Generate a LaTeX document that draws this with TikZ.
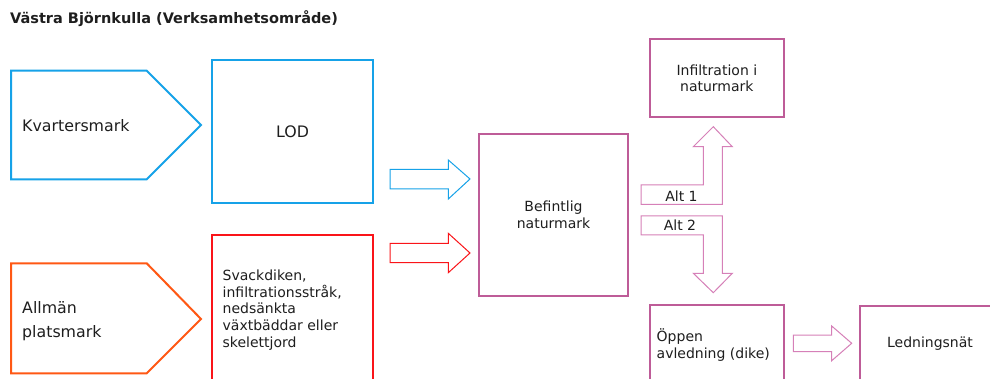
\documentclass[tikz,border=0pt]{standalone}
\usepackage{fontspec}
\setmainfont{DejaVu Sans}
\definecolor{cblue}{RGB}{22,162,232}
\definecolor{corange}{RGB}{255,88,20}
\definecolor{cred}{RGB}{250,20,25}
\definecolor{cpink}{RGB}{190,92,152}
\definecolor{carrow}{RGB}{214,128,184}
\definecolor{ctext}{RGB}{30,30,30}
\tikzset{
  box/.style={draw, line width=2pt, inner sep=0pt, text=ctext},
  blk/.style={draw, line width=1pt, line join=miter},
  big/.style={font=\fontsize{15.8}{23.5}\selectfont, text=ctext},
  small/.style={font=\fontsize{14}{16.7}\selectfont, text=ctext, align=center},
}
\begin{document}
\begin{tikzpicture}[x=1pt,y=-1pt]
\useasboundingbox (0,0) rectangle (990,379);
\clip (0,0) rectangle (990,379);
\fill[white] (0,0) rectangle (990,379);
% title
\node[anchor=base west, font=\bfseries\fontsize{14.5}{16}\selectfont, text=ctext, inner sep=0pt] (title) at (10,23.5) {Västra Björnkulla (Verksamhetsområde)};
% pentagons
\draw[cblue, line width=2pt, line join=miter] (11,70.7) -- (146.7,70.7) -- (201,125) -- (146.7,179.3) -- (11,179.3) -- cycle;
\node[big, anchor=west, inner sep=0pt] (kv) at (22,126) {Kvartersmark};
\draw[corange, line width=2pt, line join=miter] (11,263.3) -- (146.7,263.3) -- (201,319) -- (146.7,373.3) -- (11,373.3) -- cycle;
\node[big, anchor=west, inner sep=0pt, align=left] (al) at (22,321) {Allmän\\platsmark};
% boxes
\node[box, cblue, minimum width=161pt, minimum height=143pt, anchor=north west] (lod) at (211,59.3) {};
\node[big] (lodt) at (lod.center) {LOD};
\node[box, cred, minimum width=161pt, minimum height=160pt, anchor=north west] (svack) at (211,234.3) {};
\node[small, align=left, anchor=north west, inner sep=0pt] (svackt) at (222.5,269.5) {Svackdiken,\\infiltrationsstråk,\\nedsänkta\\växtbäddar eller\\skelettjord};
\node[box, cpink, minimum width=149.6pt, minimum height=162.3pt, anchor=north west] (bef) at (477.7,132.7) {};
\node[small] (beft) at (bef.center) {Befintlig\\naturmark};
\node[box, cpink, minimum width=133.7pt, minimum height=77.7pt, anchor=north west] (inf) at (649,38.3) {};
\node[small] (inft) at (inf.center) {Infiltration i\\naturmark};
\node[box, cpink, minimum width=133.7pt, minimum height=100pt, anchor=north west] (opp) at (649,304) {};
\node[small, align=left, anchor=west, inner sep=0pt] (oppt) at (656.5,345) {Öppen\\avledning (dike)};
\node[box, cpink, minimum width=160pt, minimum height=100pt, anchor=north west] (led) at (859,305) {};
\node[small, anchor=center] (ledt) at (930,344) {Ledningsnät};
% block arrows
\draw[blk, cblue] (390,169.3) -- (448.3,169.3) -- (448.3,160) -- (470,179) -- (448.3,199) -- (448.3,189) -- (390,189) -- cycle;
\draw[blk, cred] (390,243.3) -- (448.3,243.3) -- (448.3,233.3) -- (470,253) -- (448.3,272.7) -- (448.3,262.7) -- (390,262.7) -- cycle;
\draw[blk, carrow] (793.3,335) -- (831.7,335) -- (831.7,326) -- (851.7,343.3) -- (831.7,360.7) -- (831.7,351.7) -- (793.3,351.7) -- cycle;
% Alt arrows
\draw[blk, carrow] (641,185) -- (703.3,185) -- (703.3,146.7) -- (693.3,146.7) -- (713.3,126.7) -- (732.3,146.7) -- (722.3,146.7) -- (722.3,204.3) -- (641,204.3) -- cycle;
\draw[blk, carrow] (641,216) -- (722.3,216) -- (722.3,273.3) -- (732.3,273.3) -- (713.3,292.7) -- (693.3,273.3) -- (703.3,273.3) -- (703.3,235) -- (641,235) -- cycle;
\node[small, inner sep=0pt] (alt1) at (681.5,196) {Alt 1};
\node[small, inner sep=0pt] (alt2) at (680,225) {Alt 2};
\end{tikzpicture}
\end{document}
